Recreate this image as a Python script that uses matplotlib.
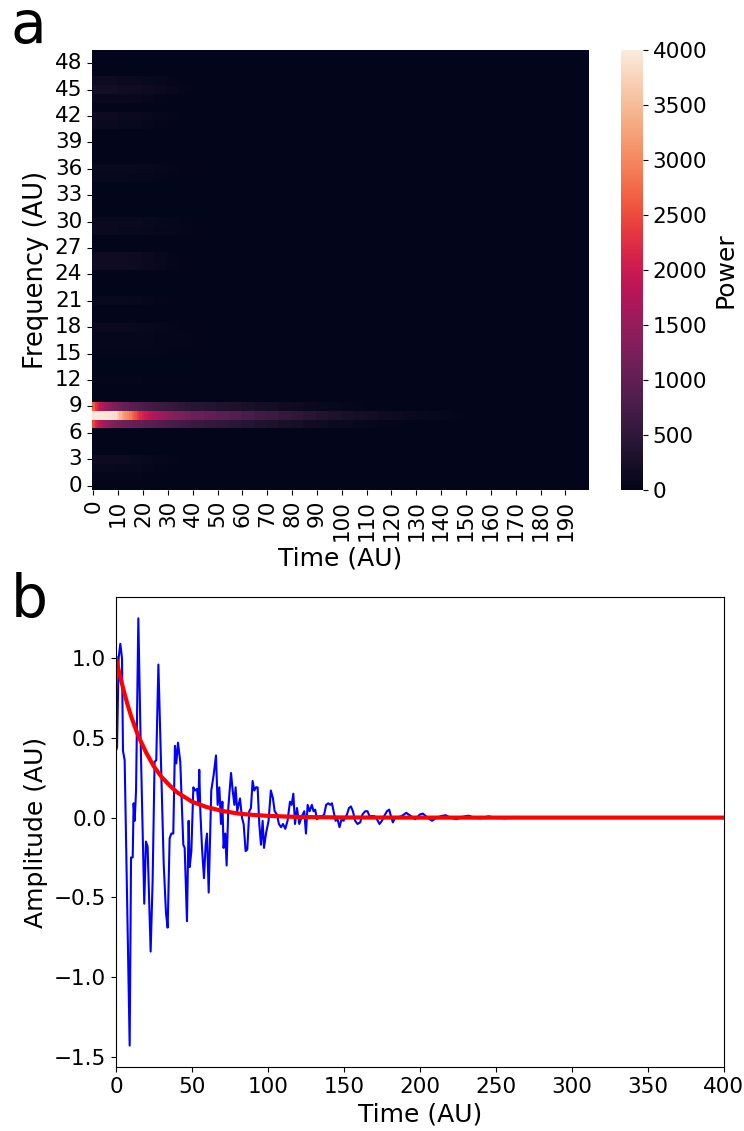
"""
Spectrogram of a decaying signal (a) and the signal itself with its envelope (b)
"""

import numpy as np
import matplotlib
matplotlib.use('Agg')
import matplotlib.pyplot as plt
import seaborn as sns

# -------------------------------------------- #
# panel a: power per (frequency, time) cell
n_freq = 50
n_time = 200

# rows 7-9: one value per column for the first 40 columns,
# then one value per block of 5 columns up to column 199
row8_start = [3950, 4000, 4000, 3980, 3960, 3940, 3920, 3900, 3880, 3850,
              3650, 3450, 3250, 3100, 3000, 2900, 2700, 2550, 2350, 2200,
              2100, 2000, 1950, 1850, 1780, 1720, 1660, 1600, 1550, 1500,
              1460, 1420, 1380, 1340, 1300, 1270, 1240, 1210, 1180, 1150]
row8_blocks = [1100, 1020, 940, 860, 780, 700, 630, 560, 500, 430, 360, 310,
               265, 225, 190, 160, 130, 105, 85, 65, 50, 38, 28, 20, 14,
               10, 5, 0, 0, 0, 0, 0]

row9_start = [2650, 2300, 2100, 1900, 1750, 1600, 1480, 1380, 1300, 1240,
              1180, 1130, 1080, 1040, 1000, 960, 920, 890, 860, 830,
              800, 770, 740, 720, 700, 680, 660, 640, 620, 600,
              585, 570, 555, 540, 525, 510, 495, 480, 465, 450]
row9_blocks = [420, 380, 340, 300, 260, 225, 190, 160, 130, 105, 85, 65,
               50, 38, 28, 20, 14, 10, 6, 4, 2, 0, 0, 0, 0, 0,
               0, 0, 0, 0, 0, 0]

row7_start = [2450, 2150, 2000, 1850, 1700, 1550, 1450, 1380, 1320, 1270,
              1230, 1200, 1170, 1140, 1110, 1080, 1060, 1040, 1020, 1000,
              980, 960, 940, 920, 900, 880, 860, 840, 820, 800,
              785, 770, 755, 740, 725, 710, 695, 680, 665, 650]
row7_blocks = [600, 550, 500, 450, 400, 350, 300, 255, 215, 180, 150, 120,
               95, 75, 58, 44, 32, 22, 15, 10, 6, 3, 0, 0, 0, 0,
               0, 0, 0, 0, 0, 0]

# weak rows: one value per block of 5 columns from column 0
faint_rows = {
    46: [130, 130, 120, 110, 90, 65, 40, 25],
    45: [200, 195, 185, 165, 135, 100, 65, 40, 25, 10],
    44: [90, 90, 80, 70, 50, 35, 15],
    42: [130, 130, 120, 105, 85, 60, 35, 15],
    41: [95, 95, 90, 80, 60, 40, 25],
    36: [90, 90, 85, 80, 70, 60, 45, 30, 20, 10],
    35: [70, 70, 65, 60, 50, 40, 30, 15],
    30: [105, 105, 100, 95, 85, 70, 55, 40, 30, 20],
    29: [95, 95, 90, 85, 75, 60, 50, 35, 25, 15],
    26: [170, 165, 155, 140, 110, 75, 40, 20],
    25: [160, 155, 145, 130, 100, 70, 35, 15],
    21: [90, 85, 80, 70, 55, 40, 25, 10],
    18: [105, 100, 95, 85, 75, 60, 45, 30, 20, 10],
    17: [55, 55, 55, 50, 50, 45, 40, 35, 25, 15, 10],
    16: [55, 55, 55, 50, 50, 45, 40, 35, 25, 15, 10],
    15: [45, 45, 45, 40, 40, 35, 30, 25, 15, 10],
    12: [35, 35, 35, 35, 30, 30, 25, 20, 15, 10],
    3: [140, 135, 125, 110, 85, 60, 35, 15],
    2: [80, 80, 75, 65, 50, 35, 15],
    1: [45, 45, 40, 35, 25, 15],
}

# panel b: signal samples (time, amplitude) and fitted envelope
sig_t = [0, 0.7, 1.75, 2.85, 3.95, 4.6, 5.7, 9.0, 9.9, 11.0, 11.6, 12.3, 13.2,
         14.7, 16.0, 18.6, 19.7, 20.8, 22.8, 24.1, 25.4, 26.5, 27.9, 29.2,
         31.4, 32.9, 34.0, 35.3, 36.4, 37.7, 38.8, 39.7, 40.8, 42.3, 44.3,
         45.2, 46.7, 47.8, 48.5, 49.6, 50.9, 52.0, 53.3, 54.2, 54.8, 55.5,
         56.6, 57.9, 59.0, 59.9, 61.0, 62.7, 64.3, 65.8, 66.9, 68.0, 69.1,
         70.0, 70.8, 71.9, 72.8, 73.9, 75.7, 76.8, 77.9, 78.7, 79.8, 80.7,
         81.6, 82.9, 84.0, 85.3, 86.4, 87.7, 88.8, 89.9, 91.0, 92.1, 93.2,
         94.3, 95.4, 96.5, 97.4, 98.7, 100.4, 101.9, 103.3, 104.4, 105.9,
         107.2, 108.6, 109.9, 111.4, 112.9, 114.5, 115.6, 116.7, 117.8,
         119.1, 120.6, 122.4, 123.9, 125.0, 126.1, 127.4, 128.9, 130.0,
         131.1, 132.2, 133.5, 134.4, 135.9, 137.0, 138.3, 139.7, 141.0,
         142.1, 143.2, 144.5, 145.8, 147.1, 148.4, 149.7, 150.9, 152.0,
         153.3, 154.6, 155.9, 157.4, 158.9, 160.7, 162.2, 164.0, 165.5,
         166.8, 168.4, 169.9, 171.7, 173.4, 175.0, 176.5, 178.3, 179.8,
         180.9, 182.2, 183.7, 185, 188, 191, 194, 197, 200, 202, 205, 208,
         211, 214, 217, 220, 224, 228, 232, 236, 240, 245, 250, 256, 262,
         268, 280, 300, 330, 360, 400]
sig_amp = [0.42, 0.44, 1.0, 1.09, 1.0, 0.42, 0.36, -1.43, -0.25, -0.25, 0.09,
           -0.02, 0.17, 1.25, 0.58, -0.54, -0.15, -0.18, -0.84, -0.40, 0.35,
           0.36, 0.96, 0.50, -0.29, -0.60, -0.69, -0.13, -0.10, -0.10, 0.45,
           0.34, 0.47, 0.35, -0.17, -0.19, -0.65, -0.02, -0.31, -0.21, 0.19,
           0.17, 0.18, 0.08, 0.30, 0.04, -0.19, -0.38, -0.17, -0.10, -0.47,
           0.17, 0.27, 0.39, 0.08, 0.19, -0.04, 0.10, -0.19, -0.10, -0.30,
           0.06, 0.28, 0.17, 0.08, 0.19, 0.04, 0.08, 0.12, 0.0, -0.04, -0.21,
           -0.20, 0.04, 0.06, 0.23, 0.17, 0.19, 0.19, -0.04, -0.17, -0.02,
           -0.19, -0.10, -0.02, 0.17, 0.12, 0.04, 0.02, -0.04, -0.06, -0.04,
           -0.07, -0.02, 0.10, 0.08, 0.15, -0.04, 0.06, -0.04, 0.01, 0.04,
           -0.10, 0.08, 0.04, 0.08, 0.04, 0.05, -0.01, 0.0, 0.01, 0.01, 0.02,
           0.08, 0.09, 0.08, 0.09, 0.04, -0.02, -0.01, -0.06, -0.01, -0.02,
           0.0, 0.02, 0.06, 0.07, 0.04, -0.02, -0.04, -0.03, 0.02, 0.04,
           0.04, 0.01, 0.01, 0.01, -0.01, -0.04, -0.02, 0.01, 0.04, 0.05,
           0.01, -0.03, 0.0, 0.0, 0.01, 0.03, 0.01, -0.01, 0.02, 0.025, 0.0,
           -0.02, 0.0, 0.01, 0.015, 0.0, -0.01, 0.005, 0.012, 0.0, -0.005,
           0.008, 0.0, -0.005, 0.004, 0.003, 0.0, 0.0, 0.0, 0.0, 0.0]

fit_t = [0, 2.5, 5, 7.5, 10, 12.5, 15, 20, 25, 30, 35, 40, 45, 50, 55, 60,
         70, 80, 90, 100, 120, 150, 200, 300, 400]
fit_amp = [1.0, 0.893, 0.80, 0.712, 0.635, 0.567, 0.505, 0.405, 0.32, 0.255,
           0.205, 0.16, 0.13, 0.10, 0.082, 0.065, 0.042, 0.026, 0.017, 0.011,
           0.004, 0.001, 0.0, 0.0, 0.0]
# -------------------------------------------- #

power = np.zeros((n_freq, n_time))
power[8, :40] = row8_start
power[8, 40:] = np.repeat(row8_blocks, 5)
power[9, :40] = row9_start
power[9, 40:] = np.repeat(row9_blocks, 5)
power[7, :40] = row7_start
power[7, 40:] = np.repeat(row7_blocks, 5)
for r, vals in faint_rows.items():
    v = np.repeat(vals, 5)
    power[r, :len(v)] = v

fig = plt.figure(figsize=(7.44, 11.31), dpi=100)

ax1 = fig.add_axes([0.1237, 0.5668, 0.668, 0.389])
cax = fig.add_axes([0.8347, 0.5668, 0.0296, 0.389])
sns.heatmap(power, ax=ax1, cbar_ax=cax, cmap='rocket', vmin=0, vmax=4000,
            xticklabels=10, yticklabels=3)
ax1.invert_yaxis()
ax1.tick_params(labelsize=15.5)
plt.setp(ax1.get_xticklabels(), rotation=90)
plt.setp(ax1.get_yticklabels(), rotation=0)
ax1.set_xlabel('Time (AU)', fontsize=18)
ax1.set_ylabel('Frequency (AU)', fontsize=18.5)
cax.tick_params(labelsize=15.5)
cax.set_ylabel('Power', fontsize=18)

ax2 = fig.add_axes([0.1559, 0.0566, 0.817, 0.4156])
ax2.plot(sig_t, sig_amp, color='blue', linewidth=1.5)
ax2.plot(fit_t, fit_amp, color='red', linewidth=3)
ax2.set_xlim(0, 400)
ax2.set_xlabel('Time (AU)', fontsize=18)
ax2.set_ylabel('Amplitude (AU)', fontsize=18)
ax2.tick_params(labelsize=15.5)

fig.text(0.014, 1 - 43/1131, 'a', fontsize=42, va='baseline')
fig.text(0.014, 1 - 617/1131, 'b', fontsize=42, va='baseline')

fig.savefig('out.png')
